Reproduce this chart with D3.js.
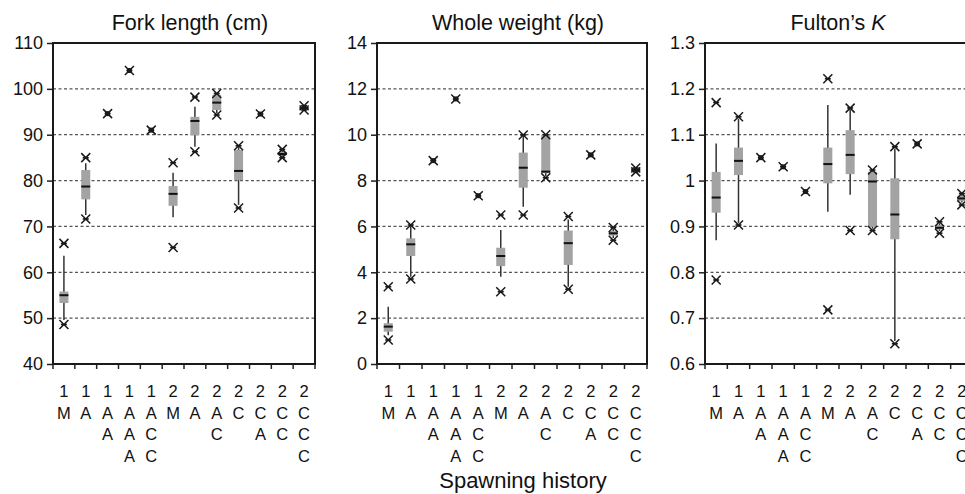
<!DOCTYPE html>
<html>
<head>
<meta charset="utf-8">
<script src="https://cdn.jsdelivr.net/npm/d3@7"></script>
<style>
  body { margin: 0; background: #fff; }
  text { font-family: Arial, "Liberation Sans", sans-serif; fill: #111; }
</style>
</head>
<body>
<svg id="chart" width="965" height="494"></svg>
<script>
var categories = ["1M", "1A", "1AA", "1AAA", "1ACC", "2M", "2A", "2AC", "2C", "2CA", "2CC", "2CCC"];

// fork length (cm)
var flMin = [48.6, 71.6, 94.6, 104.0, 91.0, 65.4, 86.3, 94.3, 74.0, 94.5, 85.0, 95.4];
var flLow = [49.6, 72.5, 94.6, 104.0, 91.0, 72.0, 87.4, 94.6, 74.7, 94.5, 85.3, 95.5];
var flQ1  = [53.3, 75.9, 94.6, 104.0, 91.0, 74.5, 89.9, 95.4, 80.1, 94.5, 85.5, 95.6];
var flMed = [55.0, 78.7, 94.6, 104.0, 91.0, 77.1, 93.0, 97.0, 82.1, 94.5, 85.8, 95.8];
var flQ3  = [55.8, 82.3, 94.6, 104.0, 91.0, 78.8, 93.9, 98.7, 86.7, 94.5, 86.2, 96.0];
var flHigh = [63.6, 83.8, 94.6, 104.0, 91.0, 81.7, 96.1, 99.0, 87.3, 94.5, 86.5, 96.2];
var flMax = [66.3, 85.0, 94.6, 104.0, 91.0, 83.9, 98.2, 99.0, 87.6, 94.5, 86.8, 96.3];

// whole weight (kg)
var wwMin = [1.05, 3.71, 8.87, 11.56, 7.34, 3.15, 6.50, 8.12, 3.26, 9.12, 5.40, 8.38];
var wwLow = [1.25, 3.81, 8.87, 11.56, 7.34, 3.81, 6.86, 8.20, 3.37, 9.12, 5.50, 8.40];
var wwQ1  = [1.41, 4.71, 8.87, 11.56, 7.34, 4.27, 7.69, 8.32, 4.32, 9.12, 5.60, 8.42];
var wwMed = [1.63, 5.22, 8.87, 11.56, 7.34, 4.71, 8.56, 8.39, 5.27, 9.12, 5.70, 8.46];
var wwQ3  = [1.78, 5.48, 8.87, 11.56, 7.34, 5.07, 9.22, 10.0, 5.82, 9.12, 5.80, 8.50];
var wwHigh = [2.50, 6.00, 8.87, 11.56, 7.34, 5.84, 9.95, 10.0, 6.30, 9.12, 5.90, 8.52];
var wwMax = [3.37, 6.06, 8.87, 11.56, 7.34, 6.50, 9.99, 10.0, 6.43, 9.12, 5.95, 8.55];

// Fulton's K
var kMin = [0.783, 0.903, 1.050, 1.030, 0.976, 0.718, 0.891, 0.891, 0.644, 1.080, 0.885, 0.947];
var kLow = [0.870, 0.907, 1.050, 1.030, 0.976, 0.932, 0.969, 0.895, 0.650, 1.080, 0.890, 0.952];
var kQ1  = [0.930, 1.012, 1.050, 1.030, 0.976, 0.994, 1.014, 0.899, 0.872, 1.080, 0.893, 0.955];
var kMed = [0.963, 1.043, 1.050, 1.030, 0.976, 1.036, 1.056, 0.998, 0.926, 1.080, 0.897, 0.961];
var kQ3  = [1.019, 1.072, 1.050, 1.030, 0.976, 1.072, 1.110, 1.019, 1.005, 1.080, 0.903, 0.967];
var kHigh = [1.081, 1.135, 1.050, 1.030, 0.976, 1.165, 1.155, 1.021, 1.070, 1.080, 0.907, 0.970];
var kMax = [1.170, 1.139, 1.050, 1.030, 0.976, 1.222, 1.158, 1.023, 1.074, 1.080, 0.910, 0.972];

var flTicks = [40, 50, 60, 70, 80, 90, 100, 110];
var wwTicks = [0, 2, 4, 6, 8, 10, 12, 14];
var kTicks = [0.6, 0.7, 0.8, 0.9, 1.0, 1.1, 1.2, 1.3];

var plotTop = 43, plotBottom = 364;

var panels = [
  { title: "Fork length (cm)", left: 53, right: 315, ticks: flTicks,
    stats: [flMin, flLow, flQ1, flMed, flQ3, flHigh, flMax] },
  { title: "Whole weight (kg)", left: 377, right: 647, ticks: wwTicks,
    stats: [wwMin, wwLow, wwQ1, wwMed, wwQ3, wwHigh, wwMax] },
  { title: "Fulton\u2019s ", italic: "K", left: 705, right: 973, ticks: kTicks,
    stats: [kMin, kLow, kQ1, kMed, kQ3, kHigh, kMax] }
];

var svg = d3.select("#chart");

function fmt(d) { return String(Math.round(d * 10) / 10); }

function marker(g, x, y) {
  var s = 4.5;
  g.append("path")
    .attr("d", "M" + (x - s) + "," + (y - s) + "L" + (x + s) + "," + (y + s) +
               "M" + (x - s) + "," + (y + s) + "L" + (x + s) + "," + (y - s) +
               "M" + (x - 3) + "," + y + "L" + (x + 3) + "," + y)
    .attr("stroke", "#1a1a1a")
    .attr("stroke-width", 1.5)
    .attr("fill", "none");
}

panels.forEach(function (p) {
  var x = d3.scaleBand().domain(categories).range([p.left, p.right]);
  var y = d3.scaleLinear()
    .domain([p.ticks[0], p.ticks[p.ticks.length - 1]])
    .range([plotBottom, plotTop]);

  var g = svg.append("g");

  // dashed gridlines
  g.selectAll(".grid")
    .data(p.ticks.slice(1, -1))
    .enter().append("line")
      .attr("x1", p.left).attr("x2", p.right)
      .attr("y1", function (d) { return y(d); })
      .attr("y2", function (d) { return y(d); })
      .attr("stroke", "#555")
      .attr("stroke-width", 1.2)
      .attr("stroke-dasharray", "3,2.5");

  // y axis
  var ax = g.append("g")
    .attr("transform", "translate(" + p.left + ",0)")
    .call(d3.axisLeft(y).tickValues(p.ticks).tickSize(6).tickPadding(4).tickFormat(fmt));
  ax.select(".domain").remove();
  ax.selectAll(".tick line").attr("stroke", "#222").attr("stroke-width", 1.5);
  ax.selectAll(".tick text")
    .attr("font-size", 18)
    .attr("font-family", "Arial, 'Liberation Sans', sans-serif")
    .attr("fill", "#111");

  // x ticks at band edges
  var edges = categories.map(function (c) { return x(c); }).concat([p.right]);
  g.selectAll(".xtick")
    .data(edges)
    .enter().append("line")
      .attr("x1", function (d) { return d; })
      .attr("x2", function (d) { return d; })
      .attr("y1", plotBottom).attr("y2", plotBottom + 5)
      .attr("stroke", "#222")
      .attr("stroke-width", 1.5);

  // x labels, one character per row
  categories.forEach(function (c) {
    var t = g.append("text")
      .attr("text-anchor", "middle")
      .attr("font-size", 16.5);
    c.split("").forEach(function (ch, i) {
      t.append("tspan")
        .attr("x", x(c) + x.bandwidth() / 2)
        .attr("y", 397 + i * 21.7)
        .text(ch);
    });
  });

  // boxes
  var bw = 9;
  categories.forEach(function (c, i) {
    var cx = x(c) + x.bandwidth() / 2;
    var mn = p.stats[0][i], lo = p.stats[1][i], q1 = p.stats[2][i], md = p.stats[3][i],
        q3 = p.stats[4][i], hi = p.stats[5][i], mx = p.stats[6][i];

    if (mx > mn) {
      g.append("line")
        .attr("x1", cx).attr("x2", cx)
        .attr("y1", y(hi)).attr("y2", y(lo))
        .attr("stroke", "#333")
        .attr("stroke-width", 1.5);
      g.append("rect")
        .attr("x", cx - bw / 2)
        .attr("y", y(q3))
        .attr("width", bw)
        .attr("height", Math.max(1, y(q1) - y(q3)))
        .attr("fill", "#a3a3a3");
      g.append("line")
        .attr("x1", cx - bw / 2).attr("x2", cx + bw / 2)
        .attr("y1", y(md)).attr("y2", y(md))
        .attr("stroke", "#111")
        .attr("stroke-width", 2);
      marker(g, cx, y(mx));
      marker(g, cx, y(mn));
    } else {
      marker(g, cx, y(mn));
      g.append("rect")
        .attr("x", cx - 2.5).attr("y", y(mn) - 2.5)
        .attr("width", 5).attr("height", 5)
        .attr("fill", "#1a1a1a");
    }
  });

  // frame
  g.append("rect")
    .attr("x", p.left).attr("y", plotTop)
    .attr("width", p.right - p.left).attr("height", plotBottom - plotTop)
    .attr("fill", "none")
    .attr("stroke", "#1a1a1a")
    .attr("stroke-width", 2);

  // title
  var tt = g.append("text")
    .attr("x", (p.left + p.right) / 2 + 6)
    .attr("y", 30)
    .attr("text-anchor", "middle")
    .attr("font-size", 21.5)
    .text(p.title);
  if (p.italic) {
    tt.append("tspan").attr("font-style", "italic").text(p.italic);
    tt.attr("x", 838);
  }
});

svg.append("text")
  .attr("x", 523)
  .attr("y", 488)
  .attr("text-anchor", "middle")
  .attr("font-size", 22)
  .text("Spawning history");
</script>
</body>
</html>
